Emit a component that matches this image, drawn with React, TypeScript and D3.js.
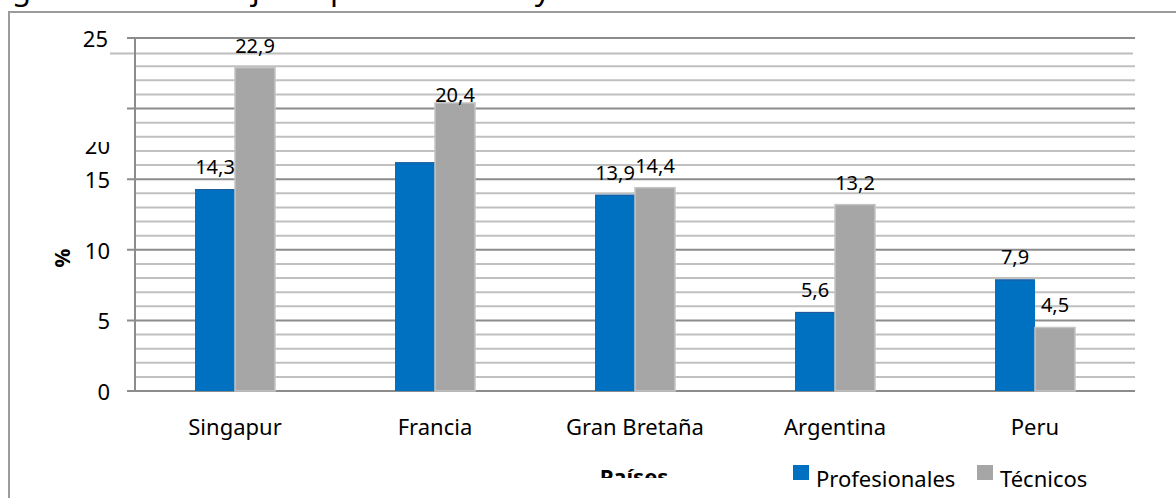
import * as d3 from 'd3';
import { useEffect } from 'react';

const categories = ['Singapur', 'Francia', 'Gran Bretaña', 'Argentina', 'Peru'];
const seriesNames = ['Profesionales', 'Técnicos'];
const profesionales = [14.3, 16.2, 13.9, 5.6, 7.9];
const tecnicos = [22.9, 20.4, 14.4, 13.2, 4.5];
const yTicks = [0, 5, 10, 15, 20, 25];
const titleText = 'Figura 1. Porcentaje de profesionales y técnicos';
const yTitle = '%';
const xTitle = 'Países';

const colors = ['#0070C0', '#A6A6A6'];
const font = '"Noto Sans", "Open Sans", sans-serif';

const App = () => {
  useEffect(() => {
    document.body.style.margin = '0';
  }, []);

  const width = 1176;
  const height = 498;
  const left = 135;
  const right = 1135;

  const x = d3.scaleBand().domain(categories).range([left, right]).padding(0);
  const xs = d3
    .scaleBand()
    .domain(seriesNames)
    .range([0, x.step()])
    .paddingInner(0)
    .paddingOuter(1.5);
  const y = d3.scaleLinear().domain([0, 25]).range([391, 38]);

  const minor = d3.range(1, 25).filter((v) => v % 5 !== 0 && v !== 24);
  const series = [profesionales, tecnicos];

  // bars drawn from the data
  const bars = categories.flatMap((c, i) =>
    series.map((vals, s) => ({
      key: `${c}-${s}`,
      cat: c,
      s,
      v: vals[i],
      x: (x(c) as number) + (xs(seriesNames[s]) as number),
    }))
  );

  return (
    <svg
      width={width}
      height={height}
      style={{ position: 'absolute', left: 0, top: 0, fontFamily: font }}
    >
      <defs>
        <clipPath id="clip20">
          <rect x={0} y={142} width={200} height={30} />
        </clipPath>
        <clipPath id="clipTitle">
          <rect x={0} y={0} width={width} height={11} />
        </clipPath>
        <clipPath id="clipX">
          <rect x={0} y={0} width={width} height={478} />
        </clipPath>
        <clipPath id="clipLegend">
          <rect x={0} y={0} width={width} height={488} />
        </clipPath>
      </defs>
      <rect width={width} height={height} fill="#fff" />

      {/* title, mostly outside the picture */}
      <text x={-12} y={0} fontSize={31} fill="#000" clipPath="url(#clipTitle)">
        {titleText}
      </text>

      {/* chart area border */}
      <path d={`M9,${height} V12 H${width}`} fill="none" stroke="#9B9B9B" strokeWidth={2} />

      {/* minor grid */}
      {minor.map((v) => (
        <line key={`m${v}`} x1={left} x2={right} y1={y(v)} y2={y(v)} stroke="#C0C0C0" strokeWidth={2} />
      ))}
      <line x1={110} x2={1133} y1={y(24) + 1.5} y2={y(24) + 1.5} stroke="#BDBDBD" strokeWidth={2} />

      {/* major grid + ticks */}
      {yTicks.map((v) => (
        <line key={`M${v}`} x1={left - 8} x2={right} y1={y(v)} y2={y(v)} stroke="#8C8C8C" strokeWidth={2} />
      ))}
      <line x1={left} x2={left} y1={y(25)} y2={y(0)} stroke="#8C8C8C" strokeWidth={2} />

      {/* y labels */}
      {yTicks.map((v) =>
        v === 20 ? (
          <text
            key={`t${v}`}
            x={110}
            y={y(v) + 36}
            textAnchor="end"
            dominantBaseline="central"
            fontSize={22}
            clipPath="url(#clip20)"
          >
            {v}
          </text>
        ) : (
          <text
            key={`t${v}`}
            x={v === 25 ? 108 : 110}
            y={y(v)}
            textAnchor="end"
            dominantBaseline="central"
            fontSize={22}
          >
            {v}
          </text>
        )
      )}

      <text
        transform="translate(70,258) rotate(-90)"
        textAnchor="middle"
        fontSize={21}
        fontWeight="bold"
      >
        {yTitle}
      </text>

      {/* bars */}
      {bars.map((b) => (
        <g key={b.key}>
          <rect
            x={b.x}
            y={y(b.v)}
            width={xs.bandwidth()}
            height={y(0) - y(b.v)}
            fill={colors[b.s]}
            stroke={b.s === 1 ? '#C4C4C4' : 'none'}
            strokeWidth={b.s === 1 ? 1.5 : 0}
          />
          {b.s === 0 && (
            <line x1={b.x} x2={b.x + xs.bandwidth()} y1={y(b.v) + 0.5} y2={y(b.v) + 0.5} stroke="#235A9A" strokeWidth={1} />
          )}
        </g>
      ))}

      {/* data labels (Francia profesionales has none in the original) */}
      {bars
        .filter((b) => !(b.cat === 'Francia' && b.s === 0))
        .map((b) => (
          <text
            key={`l${b.key}`}
            x={b.x + xs.bandwidth() / 2}
            y={y(b.v) - (b.cat === 'Francia' ? 1 : 15)}
            textAnchor="middle"
            fontSize={20}
          >
            {String(b.v).replace('.', ',')}
          </text>
        ))}

      {/* x labels */}
      {categories.map((c) => (
        <text
          key={c}
          x={(x(c) as number) + x.step() / 2}
          y={435}
          textAnchor="middle"
          fontSize={22}
        >
          {c}
        </text>
      ))}

      <text x={634} y={485} textAnchor="middle" fontSize={22} fontWeight="bold" clipPath="url(#clipX)">
        {xTitle}
      </text>

      {/* legend */}
      <g clipPath="url(#clipLegend)">
        {seriesNames.map((n, i) => {
          const lx = i === 0 ? 793 : 977;
          return (
            <g key={n}>
              <rect x={lx} y={465} width={16} height={15} fill={colors[i]} />
              <text x={lx + 23} y={487} fontSize={22}>
                {n}
              </text>
            </g>
          );
        })}
      </g>
    </svg>
  );
};

export default App;
